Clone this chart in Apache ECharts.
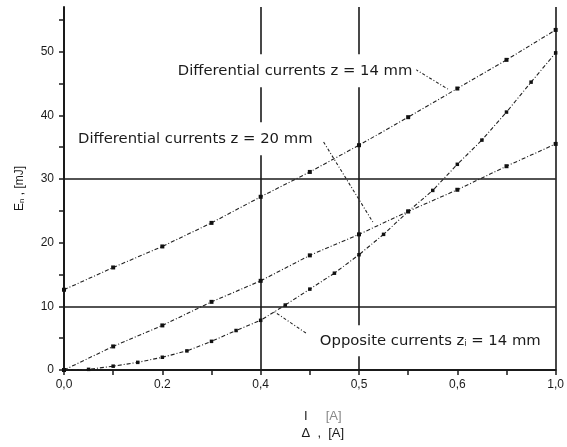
<!DOCTYPE html>
<html>
<head>
<meta charset="utf-8">
<script src="https://cdn.jsdelivr.net/npm/echarts@6/dist/echarts.min.js"></script>
<style>html,body{margin:0;padding:0;background:#fff}#c{width:567px;height:447px}</style>
</head>
<body>
<div id="c"></div>
<script>
// x positions of points
const xCoarse = [0, 0.1, 0.2, 0.3, 0.4, 0.5, 0.6, 0.7, 0.8, 0.9, 1.0];
const xFine = [0, 0.05, 0.1, 0.15, 0.2, 0.25, 0.3, 0.35, 0.4, 0.45, 0.5, 0.55, 0.6, 0.65, 0.7, 0.75, 0.8, 0.85, 0.9, 0.95, 1.0];
// series values [mJ]
const diff14 = [12.6, 16.1, 19.4, 23.1, 27.2, 31.1, 35.3, 39.7, 44.2, 48.7, 53.4];
const diff20 = [0, 3.7, 7.0, 10.7, 14.0, 18.0, 21.3, 24.9, 28.3, 32.0, 35.5];
const opposite14 = [0, 0.1, 0.6, 1.2, 2.0, 3.0, 4.5, 6.2, 7.8, 10.2, 12.7, 15.2, 18.1, 21.3, 24.9, 28.2, 32.3, 36.1, 40.5, 45.2, 49.8];
// tick labels
const xTickValues = [0, 0.2, 0.4, 0.6, 0.8, 1.0];
const xTickLabels = ['0,0', '0.2', '0,4', '0,5', '0,6', '1,0'];
const yTickLabels = ['0', '10', '20', '30', '40', '50'];
// annotation texts
const labelDiff14 = 'Differential currents z = 14 mm';
const labelDiff20 = 'Differential currents z = 20 mm';

const FONT = 'Liberation Sans, Arial, sans-serif';
const AFONT = 'DejaVu Sans, sans-serif';
const INK = '#1a1a1a';
const AFS = 14.8;

function xLabel(v) {
  for (let i = 0; i < xTickValues.length; i++) {
    if (Math.abs(v - xTickValues[i]) < 1e-6) return xTickLabels[i];
  }
  return '';
}
function yLabel(v) {
  const k = Math.round(v / 10);
  if (Math.abs(v - k * 10) < 1e-6 && k >= 0 && k < yTickLabels.length) return yTickLabels[k];
  return '';
}

const curveLine = { color: '#222', width: 1.1, type: [4, 2, 1, 2] };

const chart = echarts.init(document.getElementById('c'), null, { renderer: 'canvas' });
chart.setOption({
  animation: false,
  backgroundColor: '#fff',
  textStyle: { fontFamily: FONT },
  grid: { left: 64, right: 9, top: 7, bottom: 75, containLabel: false },
  xAxis: {
    type: 'value', min: 0, max: 1, interval: 0.1,
    axisLine: { show: true, lineStyle: { color: INK, width: 2 } },
    axisTick: { show: true, inside: false, length: 5, lineStyle: { color: INK, width: 1.5 } },
    axisLabel: { formatter: xLabel, color: INK, fontSize: 12, margin: 9, fontFamily: FONT, showMinLabel: true, showMaxLabel: true },
    splitLine: { show: false },
    name: '{a|I}{s|     [A]}\n{a|Δ  ,  [A]}',
    nameLocation: 'middle', nameGap: 38,
    nameTextStyle: {
      color: INK, fontFamily: FONT, lineHeight: 17, padding: [0, 0, 0, 26],
      rich: { a: { fontSize: 13, color: INK, fontFamily: FONT }, s: { fontSize: 13, color: '#888', fontFamily: FONT } }
    }
  },
  yAxis: {
    type: 'value', min: 0, max: 57, interval: 5,
    axisLine: { show: true, lineStyle: { color: INK, width: 2 } },
    axisTick: { show: true, inside: false, length: 5, lineStyle: { color: INK, width: 1.5 } },
    axisLabel: { formatter: yLabel, color: INK, fontSize: 12, margin: 10, fontFamily: FONT, showMaxLabel: false },
    splitLine: { show: false },
    name: '{t|E}{sub|n}{t| , [mJ]}',
    nameLocation: 'middle', nameGap: 38, nameRotate: 90,
    nameTextStyle: {
      color: INK,
      rich: { t: { fontSize: 12, color: INK, fontFamily: FONT }, sub: { fontSize: 8, color: INK, fontFamily: FONT, verticalAlign: 'bottom' } }
    }
  },
  series: [
    {
      name: 'guides', type: 'line', z: 1, silent: true,
      data: [[0, 0]], showSymbol: false, lineStyle: { width: 0 },
      markLine: {
        silent: true, symbol: 'none', animation: false,
        label: { show: false },
        lineStyle: { color: INK, width: 1.6, type: 'solid' },
        data: [{ xAxis: 0.4 }, { xAxis: 0.6 }, { xAxis: 1.0 }, { yAxis: 10 }, { yAxis: 30 }]
      }
    },
    {
      name: 'Differential currents z=14 mm', type: 'line', z: 5,
      data: xCoarse.map((x, i) => [x, diff14[i]]),
      symbol: 'rect', symbolSize: 4, itemStyle: { color: '#111' },
      lineStyle: curveLine
    },
    {
      name: 'Differential currents z=20 mm', type: 'line', z: 5,
      data: xCoarse.map((x, i) => [x, diff20[i]]),
      symbol: 'rect', symbolSize: 4, itemStyle: { color: '#111' },
      lineStyle: curveLine
    },
    {
      name: 'Opposite currents z=14 mm', type: 'line', z: 5,
      data: xFine.map((x, i) => [x, opposite14[i]]),
      symbol: 'rect', symbolSize: 3.5, itemStyle: { color: '#111' },
      lineStyle: { color: '#222', width: 1.1, type: [4, 2, 1, 2] }
    },
    {
      name: 'annotations', type: 'line', z: 10, silent: true,
      data: [[0, 0]], showSymbol: false, lineStyle: { width: 0 },
      markLine: {
        silent: true, animation: false,
        symbol: ['none', 'arrow'], symbolSize: [0, 7],
        label: { show: false },
        lineStyle: { color: '#222', width: 1.1, type: [3, 2, 1, 2] },
        data: [
          [{ coord: [0.715, 47.2] }, { coord: [0.781, 44.1] }],
          [{ coord: [0.528, 35.8] }, { coord: [0.630, 23.0] }],
          [{ coord: [0.492, 5.8] }, { coord: [0.427, 9.2] }]
        ]
      },
      markPoint: {
        silent: true, animation: false,
        symbol: 'circle', symbolSize: 1,
        itemStyle: { color: 'rgba(0,0,0,0)' },
        label: {
          show: true, position: 'inside', color: INK, fontSize: AFS, fontFamily: AFONT,
          backgroundColor: '#fff', padding: [9, 4]
        },
        data: [
          { coord: [0.47, 47.0], label: { formatter: labelDiff14 } },
          { coord: [0.267, 36.3], label: { formatter: labelDiff20 } },
          {
            coord: [0.745, 4.6],
            label: {
              padding: [8, 4],
              formatter: '{t|Opposite currents }{u|z}{sub|i}{t| = 14 mm}',
              rich: {
                t: { fontSize: AFS, color: INK, fontFamily: AFONT },
                u: { fontSize: AFS, color: INK, fontFamily: AFONT, textDecoration: 'underline' },
                sub: { fontSize: 8, color: INK, fontFamily: AFONT, verticalAlign: 'bottom', padding: [6, 0, 0, 0] }
              }
            }
          }
        ]
      }
    }
  ]
});
</script>
</body>
</html>
